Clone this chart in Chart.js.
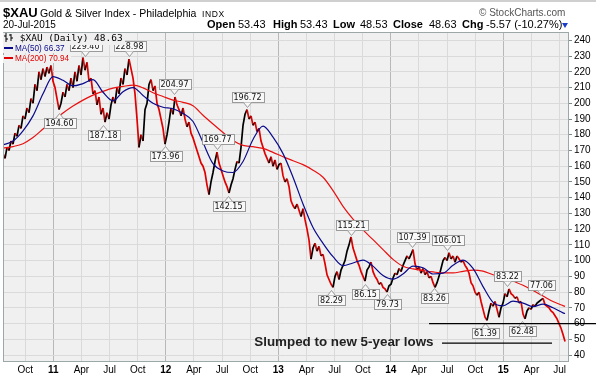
<!DOCTYPE html>
<html><head><meta charset="utf-8">
<script src="https://cdn.jsdelivr.net/npm/chart.js@4.4.1/dist/chart.umd.min.js"></script>
<style>
html,body{margin:0;padding:0;background:#fff;width:596px;height:381px;overflow:hidden;font-family:"Liberation Sans",Arial,sans-serif;}
#wrap{position:relative;width:596px;height:381px;}
canvas{position:absolute;left:0;top:0;}
.t{position:absolute;white-space:nowrap;line-height:1;color:#000;}
.b{font-weight:bold;}
</style></head><body>
<div id="wrap">
<canvas id="c" width="596" height="381"></canvas>
<div class="t" style="left:0;top:0;width:596px;height:2px;background:#cfcfcf"></div>
<div class="t b" style="left:3px;top:5.7px;font-size:13px;">$XAU</div>
<div class="t" style="left:40px;top:7.8px;font-size:10.5px;">Gold &amp; Silver Index - Philadelphia</div>
<div class="t" style="left:202px;top:9.5px;font-size:8.5px;letter-spacing:0.6px;">INDX</div>
<div class="t" style="left:479px;top:8.2px;font-size:10px;color:#555;">© StockCharts.com</div>
<div class="t" style="left:3px;top:19.8px;font-size:10px;">20-Jul-2015</div>
<div class="t b" style="left:207px;top:19.4px;font-size:11px;">Open</div>
<div class="t" style="left:238px;top:19.4px;font-size:11px;">53.43</div>
<div class="t b" style="left:273px;top:19.4px;font-size:11px;">High</div>
<div class="t" style="left:300px;top:19.4px;font-size:11px;">53.43</div>
<div class="t b" style="left:333px;top:19.4px;font-size:11px;">Low</div>
<div class="t" style="left:360px;top:19.4px;font-size:11px;">48.53</div>
<div class="t b" style="left:393px;top:19.4px;font-size:11px;">Close</div>
<div class="t" style="left:429px;top:19.4px;font-size:11px;">48.63</div>
<div class="t b" style="left:462px;top:19.4px;font-size:11px;">Chg</div>
<div class="t" style="left:486px;top:19.4px;font-size:11px;">-5.57 (-10.27%)</div>
<div class="t" style="left:562px;top:23px;width:0;height:0;border-left:3.5px solid transparent;border-right:3.5px solid transparent;border-top:5px solid #1a3cc8;"></div>
<div id="lg1" class="t" style="left:3px;top:33px;height:12px;padding:0 2px 0 1px;background:#f0f0f0;font-family:'DejaVu Sans Mono',monospace;font-size:9.5px;"><svg width="10" height="9" style="vertical-align:-1px" viewBox="0 0 10 9"><path d="M2 0V9M0 3H2M2 6H4M7 1V8M5 2H7M7 5H9" stroke="#000" stroke-width="1" fill="none"/></svg><span id="lg1t"></span></div>
<div class="t" style="left:3px;top:44.7px;padding:0 2px 0 1px;background:#f0f0f0;font-size:8.2px;color:#0a0a8c;"><span style="display:inline-block;width:9px;height:2px;background:#0a0a8c;vertical-align:2px;margin-right:2px"></span><span id="lg2t"></span></div>
<div class="t" style="left:3px;top:55.2px;padding:0 2px 0 1px;background:#f0f0f0;font-size:8.2px;color:#e00000;"><span style="display:inline-block;width:9px;height:2px;background:#e00000;vertical-align:2px;margin-right:2px"></span><span id="lg3t"></span></div>
</div>
<script>
// ---- data ----
const sampleStart = 2010.553;   // decimal year of first sample
const sampleStep = 0.017778;    // years between samples (about one week)
const close = [
168,165,172,170,176,174,181,179,186,184,
192,190,197,194,203,200,212,208,220,215,
222,217,223,219,224,214,210,203,196,200,
207,204,212,208,216,210,220,214,224,218,
229,221,226,214,216,206,208,199,204,193,
197,188,194,190,199,204,200,210,206,216,
212,222,218,228,222,216,206,190,172,180,
176,196,200,212,215,208,211,200,196,190,
184,174,180,188,197,193,204,199,196,192,
197,190,185,188,181,178,174,170,166,162,
160,156,148,142,150,156,163,169,162,158,
154,150,147,143,148,152,158,163,162,172,
186,193,196,190,192,186,188,182,184,176,
172,168,165,162,166,160,164,158,161,162,
154,150,152,147,138,135,133,136,132,128,
133,126,120,113,101,108,111,106,109,103,
104,98,91,88,85,83,90,93,88,94,
97,100,106,110,115,108,104,100,97,93,
90,87,94,96,99,93,90,88,85,86,
83,82,80,84,85,89,92,91,95,93,
97,100,103,101,104,107,98,94,96,92,
95,91,93,89,90,86,83,86,90,95,
100,102,100,105,101,103,99,103,101,99,
100,97,95,92,86,84,80,78,80,74,
69,64,62,68,73,71,74,69,64,70,
73,79,77,82,79,78,76,77,73,74,
66,63,68,70,69,72,71,73,74,75,
76,72,71,70,68,67,65,63,60,57,
53,48.63];
const maEvery = 5; // moving-average values read every 5th sample (plus the last one)
const ma50 = [
173.5,176,182.5,192,206,217,214.6,211,212.5,215,
207,201.5,207.4,210,205,200,197.5,196.5,193.5,188.4,
175,161.6,157,156,163,177,185.5,178.5,168,153,
136,121,111,102.5,96.8,98.5,100.3,96.5,90.5,88.2,
91.5,96.5,95.5,91.5,92,97,100.3,95,83.5,73.5,
71.3,74.3,73,70.8,72.3,70,66.8,66.37];
const ma200 = [
171.5,172.5,174.3,178.2,183.6,188.9,193.8,198.2,202,205.2,
207.6,209.6,210.7,211.5,209.8,206.7,204.3,202,200.6,198.4,
192.4,186.8,181.4,176.3,173.2,172.4,171.3,168.8,166,163.5,
161,157.5,153,144.5,134.5,126.4,119.5,113.3,107,100.8,
96.4,94.7,93.7,92.8,92.2,92.2,93.2,94,93.3,91,
89.7,87,84.3,81,77.5,74,71.4,70.94];
const peakText = ['229.40','228.98','204.97','169.77','196.72','115.21','107.39','106.01','83.22','77.06'];
const peakAt   = [41,63,85.5,107,122,174,204.5,222,252,269];
const troughText = ['194.60','187.18','173.96','142.15','82.29','86.15','79.73','83.26','61.39','62.48'];
const troughAt   = [28,50,81,112.5,164,180.75,192,215.5,241,259.5];
const xTicks = [2010.75,2011,2011.25,2011.5,2011.75,2012,2012.25,2012.5,2012.75,2013,2013.25,2013.5,2013.75,2014,2014.25,2014.5,2014.75,2015,2015.25,2015.5];
const xTickLabels = ['Oct','11','Apr','Jul','Oct','12','Apr','Jul','Oct','13','Apr','Jul','Oct','14','Apr','Jul','Oct','15','Apr','Jul'];
const yTicks = [40,50,60,70,80,90,100,110,120,130,140,150,160,170,180,190,200,210,220,230,240];
const supportLine = {level:60, from:2014.340};
const lowsLine = {level:47.6, from:2014.455, to:2015.433};
const noteText = 'Slumped to new 5-year lows';
const noteAt = {x:2012.786, y:48.3};

// ---- build ----
const tOf = i => sampleStart + i * sampleStep;
const priceData = close.map((v, i) => ({x: tOf(i), y: v}));
const maData = arr => arr.map((v, k) => ({x: tOf(Math.min(k * maEvery, close.length - 1)), y: v}));

document.getElementById('lg1t').textContent = ' $XAU (Daily) ' + close[close.length-1].toFixed(2);
document.getElementById('lg2t').textContent = 'MA(50) ' + ma50[ma50.length-1].toFixed(2);
document.getElementById('lg3t').textContent = 'MA(200) ' + ma200[ma200.length-1].toFixed(2);

const FONT = '"Liberation Sans", Arial, sans-serif';
const bgPlugin = {
  id: 'bg',
  beforeDraw(chart) {
    const {ctx, chartArea: a} = chart;
    ctx.save(); ctx.fillStyle = '#f0f0f0';
    ctx.fillRect(a.left, a.top, a.right - a.left, a.bottom - a.top);
    ctx.restore();
  },
  afterDraw(chart) {
    const {ctx, chartArea: a, scales: {x, y}} = chart;
    ctx.save();
    ctx.strokeStyle = '#9ca8a8'; ctx.lineWidth = 1;
    ctx.beginPath();
    ctx.moveTo(a.left + 0.5, a.bottom); ctx.lineTo(a.left + 0.5, a.top + 0.5); ctx.lineTo(a.right, a.top + 0.5);
    ctx.stroke();
    // label boxes
    ctx.font = '8px "DejaVu Sans", sans-serif';
    ctx.textAlign = 'center'; ctx.textBaseline = 'middle';
    const box = (txt, idx, up) => {
      const cx = Math.round(x.getPixelForValue(tOf(idx))) + 0.5;
      const py = y.getPixelForValue(parseFloat(txt));
      const w = Math.round(ctx.measureText(txt).width) + 4, h = 10;
      const top = up ? Math.round(py - 6.5 - h) + 0.5 : Math.round(py + 6.5) + 0.5;
      const left = Math.round(cx - w / 2) + 0.5;
      ctx.save();
      ctx.beginPath(); ctx.rect(a.left, a.top, a.right - a.left, a.bottom - a.top); ctx.clip();
      ctx.fillStyle = '#f8f8f8'; ctx.strokeStyle = '#9a9a9a';
      ctx.fillRect(left, top, w, h); ctx.strokeRect(left, top, w, h);
      const ey = up ? top + h : top;
      const ty = up ? ey + 5 : ey - 5;
      ctx.beginPath(); ctx.moveTo(cx - 4, ey); ctx.lineTo(cx, ty); ctx.lineTo(cx + 4, ey); ctx.closePath();
      ctx.fill();
      ctx.beginPath(); ctx.moveTo(cx - 4, ey); ctx.lineTo(cx, ty); ctx.lineTo(cx + 4, ey); ctx.stroke();
      ctx.fillStyle = '#111';
      ctx.fillText(txt, cx, top + h / 2 + 0.5);
      ctx.restore();
    };
    peakText.forEach((s, i) => box(s, peakAt[i], true));
    troughText.forEach((s, i) => box(s, troughAt[i], false));
    // annotation lines
    ctx.strokeStyle = '#000'; ctx.lineWidth = 1.3;
    let yy = y.getPixelForValue(supportLine.level);
    ctx.beginPath(); ctx.moveTo(x.getPixelForValue(supportLine.from), yy); ctx.lineTo(chart.width, yy); ctx.stroke();
    yy = y.getPixelForValue(lowsLine.level);
    ctx.beginPath(); ctx.moveTo(x.getPixelForValue(lowsLine.from), yy); ctx.lineTo(x.getPixelForValue(lowsLine.to), yy); ctx.stroke();
    ctx.font = 'bold 13.4px ' + FONT; ctx.fillStyle = '#222';
    ctx.textAlign = 'left'; ctx.textBaseline = 'middle';
    ctx.fillText(noteText, x.getPixelForValue(noteAt.x), y.getPixelForValue(noteAt.y));
    ctx.restore();
  }
};

new Chart(document.getElementById('c'), {
  type: 'line',
  data: {
    datasets: [
      {data: priceData, borderColor: '#000', borderWidth: 1.7, pointRadius: 0, tension: 0, order: 3,
       segment: {borderColor: c => c.p1.parsed.y >= c.p0.parsed.y ? '#000' : '#e00000'}},
      {data: maData(ma200), borderColor: '#e81010', borderWidth: 1.2, pointRadius: 0, cubicInterpolationMode: 'monotone', order: 2},
      {data: maData(ma50), borderColor: '#0a0a8c', borderWidth: 1.2, pointRadius: 0, cubicInterpolationMode: 'monotone', order: 1}
    ]
  },
  options: {
    responsive: false, animation: false, events: [],
    layout: {padding: {top: 32, left: 3, right: 0, bottom: 0}},
    plugins: {legend: {display: false}, tooltip: {enabled: false}},
    scales: {
      x: {
        type: 'linear', min: 2010.553, max: 2015.575,
        afterBuildTicks: s => { s.ticks = xTicks.map(v => ({value: v})); },
        afterFit: s => { s.height = 20; },
        ticks: {autoSkip: false, maxRotation: 0, padding: 3, color: '#000',
          font: c => ({family: FONT, size: 10, weight: (c.tick && Number.isInteger(c.tick.value)) ? 'bold' : 'normal'}),
          callback: (v, i) => xTickLabels[i]},
        grid: {color: c => (c.tick && Number.isInteger(c.tick.value)) ? '#b8b8b8' : '#dadada', drawTicks: false},
        border: {color: '#9ca8a8'}
      },
      y: {
        type: 'linear', position: 'right', min: 36.2, max: 245.3,
        afterBuildTicks: s => { s.ticks = yTicks.map(v => ({value: v})); },
        afterFit: s => { s.width = 28; },
        ticks: {padding: 2, color: '#000', autoSkip: false, font: {family: FONT, size: 10}},
        grid: {color: '#dadada', tickColor: '#7a8a8a', tickLength: 4},
        border: {color: '#9ca8a8'}
      }
    }
  },
  plugins: [bgPlugin]
});
</script>
</body></html>
